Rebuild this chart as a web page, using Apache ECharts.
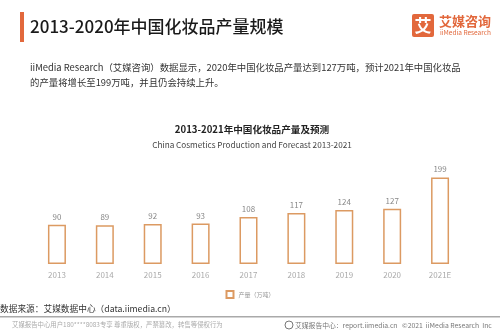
<!DOCTYPE html>
<html><head><meta charset="utf-8">
<script src="https://cdn.jsdelivr.net/npm/echarts@6/dist/echarts.min.js"></script>
<style>html,body{margin:0;padding:0;background:#fff}#c{width:500px;height:333px}</style>
</head><body><div id="c"></div>
<script>
const categories = ['2013','2014','2015','2016','2017','2018','2019','2020','2021E'];
const production = [90, 89, 92, 93, 108, 117, 124, 127, 199];
const seriesName = '产量（万吨）';
const FONT = '"Noto Sans CJK SC","Noto Sans",sans-serif';

const chart = echarts.init(document.getElementById('c'), null, {renderer:'canvas'});
chart.setOption({
  backgroundColor:'#fff',
  animation:false,
  textStyle:{fontFamily:FONT},
  title:{
    text:'2013-2021年中国化妆品产量及预测',
    subtext:'China Cosmetics Production and Forecast 2013-2021',
    left:247, top:120, textAlign:'center', itemGap:6,
    textStyle:{fontSize:9.6, fontWeight:'bold', color:'#222', fontFamily:FONT},
    subtextStyle:{fontSize:8.2, color:'#444', fontFamily:FONT}
  },
  legend:{
    data:[seriesName], left:'center', top:285, itemWidth:7, itemHeight:7, itemGap:4,
    icon:'rect',
    textStyle:{fontSize:6, color:'#999', fontFamily:FONT}
  },
  grid:{left:33, right:36, top:177, bottom:69},
  xAxis:{
    type:'category', data:categories,
    axisLine:{show:false}, axisTick:{show:false},
    axisLabel:{fontSize:8, color:'#aaa', margin:7, fontFamily:FONT}
  },
  yAxis:{type:'value', min:0, max:200, show:false, splitLine:{show:false}},
  series:[{
    name:seriesName, type:'bar', data:production, barWidth:18,
    itemStyle:{color:'#fff', borderColor:'#dc9a62', borderWidth:1.5},
    label:{show:true, position:'top', distance:4, fontSize:8, color:'#888', fontFamily:FONT}
  }],
  graphic:[
    {type:'rect', shape:{x:20,y:12,width:4,height:30}, style:{fill:'#e2683c'}},
    {type:'text', style:{x:30, y:27, text:'2013-2020年中国化妆品产量规模', fontSize:17, fontWeight:500, fill:'#1a1a1a', fontFamily:FONT, textVerticalAlign:'middle'}},
    {type:'rect', shape:{x:412,y:14,width:22,height:23,r:2}, style:{fill:'#e2683c'}},
    {type:'text', style:{x:423, y:25.5, text:'艾', fontSize:17, fontWeight:'bold', fill:'#fff', fontFamily:FONT, textAlign:'center', textVerticalAlign:'middle'}},
    {type:'text', style:{x:439, y:21, text:'艾媒咨询', fontSize:13, fontWeight:'bold', fill:'#e2683c', fontFamily:FONT, textVerticalAlign:'middle'}},
    {type:'text', style:{x:440, y:33, text:'iiMedia Research', fontSize:6.5, fill:'#e2683c', fontFamily:FONT, textVerticalAlign:'middle'}},
    {type:'text', style:{x:30, y:67, text:'iiMedia Research（艾媒咨询）数据显示，2020年中国化妆品产量达到127万吨，预计2021年中国化妆品', fontSize:9.4, fill:'#333', fontFamily:FONT, textVerticalAlign:'middle'}},
    {type:'text', style:{x:30, y:82, text:'的产量将增长至199万吨，并且仍会持续上升。', fontSize:9.4, fill:'#333', fontFamily:FONT, textVerticalAlign:'middle'}},
    {type:'text', style:{x:0, y:309, text:'数据来源：艾媒数据中心（data.iimedia.cn）', fontSize:8.7, fill:'#333', fontFamily:FONT, textVerticalAlign:'middle'}},
    {type:'rect', shape:{x:0,y:316,width:500,height:1.5}, style:{fill:'#aaa'}},
    {type:'text', style:{x:12, y:325, text:'艾媒报告中心用户180****8083专享 尊重版权，严禁篡改，转售等侵权行为', fontSize:6.4, fill:'#aaa', fontFamily:FONT, textVerticalAlign:'middle'}},
    {type:'circle', shape:{cx:289,cy:325,r:4}, style:{fill:'none', stroke:'#777', lineWidth:1}},
    {type:'text', style:{x:295, y:325, text:'艾媒报告中心：report.iimedia.cn   ©2021  iiMedia Research  Inc', fontSize:6.8, fill:'#777', fontFamily:FONT, textVerticalAlign:'middle'}}
  ]
});
</script></body></html>
